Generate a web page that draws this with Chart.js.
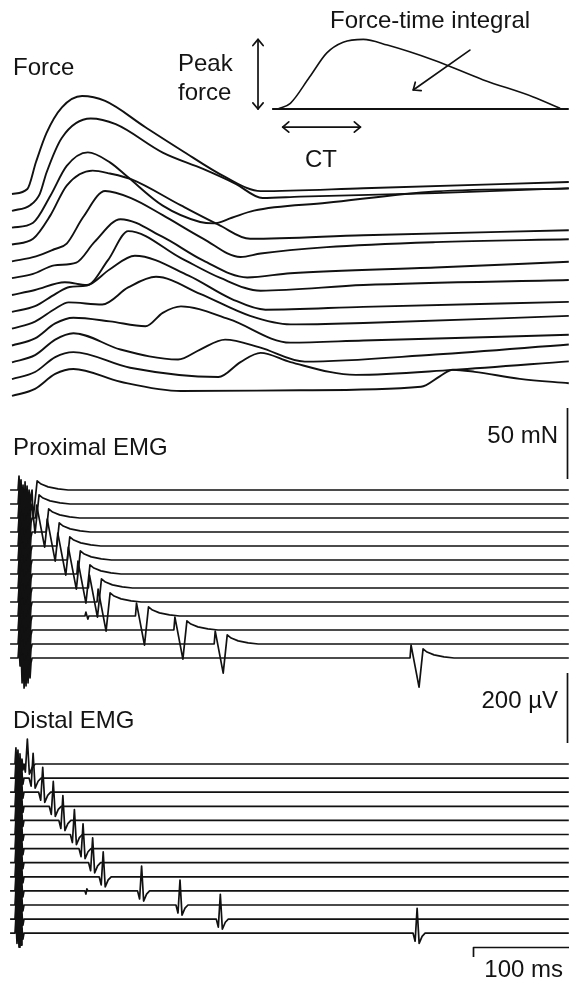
<!DOCTYPE html>
<html>
<head>
<meta charset="utf-8">
<script src="https://cdn.jsdelivr.net/npm/chart.js@4.4.1/dist/chart.umd.min.js"></script>
<style>
  html, body { margin: 0; padding: 0; background: #fff; }
  #wrap { position: relative; width: 569px; height: 982px; overflow: hidden; }
  #chart { position: absolute; left: 0; top: 0; }
  .lbl { position: absolute; font-family: "Liberation Sans", Arial, Helvetica, sans-serif;
         font-size: 24px; line-height: 24px; color: #141414; white-space: nowrap; }
</style>
</head>
<body>
<div id="wrap">
  <canvas id="chart" width="569" height="982"></canvas>
  <div class="lbl" style="left:13px;top:55px">Force</div>
  <div class="lbl" style="left:178px;top:51px">Peak</div>
  <div class="lbl" style="left:178px;top:80px">force</div>
  <div class="lbl" style="left:330px;top:8px">Force-time integral</div>
  <div class="lbl" style="left:305px;top:147px">CT</div>
  <div class="lbl" style="right:11px;top:423px">50 mN</div>
  <div class="lbl" style="left:13px;top:435px">Proximal EMG</div>
  <div class="lbl" style="right:11px;top:688px">200 µV</div>
  <div class="lbl" style="left:13px;top:708px">Distal EMG</div>
  <div class="lbl" style="right:6px;top:957px">100 ms</div>
</div>
<script>
// time in ms after the first stimulus, force in mN above each trace's baseline
const force01 = [[0,0],[16,3.5],[25,22.5],[36,43],[52,61],[73,69],[97,65.5],[139,47],[176,31],[222,12],[259,2],[366,4],[580,8.5]];
const force02 = [[0,0],[19,4],[29,12],[36,27],[52,51.5],[82,65],[108,61],[157,41],[199,29.5],[233,19],[261,9],[300,10],[441,12.5],[580,16]];
const force03 = [[0,0],[22,3.5],[40,22.5],[57,43.5],[79,53],[102,46],[120,36],[157,15.5],[196,4],[210,3],[229,7],[252,12],[328,17.5],[441,25.5],[580,27.5]];
const force04 = [[0,0],[22,4],[40,20.5],[57,41.5],[84,52],[102,50],[124,46],[176,27.5],[215,14],[248,4],[366,6.5],[580,10]];
const force05 = [[0,0],[25,3.5],[44,8.5],[57,12.5],[74,31],[97,49.5],[124,44.5],[157,32.5],[199,16],[238,3],[259,5.5],[328,10],[441,13.5],[580,15.5]];
const force06 = [[0,0],[22,3],[44,9],[67,11],[86,25.5],[113,41.5],[157,29],[199,12.5],[245,0.5],[290,3.5],[441,7.5],[580,11.5]];
const force07 = [[0,0],[24,3.5],[55,9],[78,7],[100,24.5],[121,45],[176,26],[217,12],[259,3],[366,7],[580,10.5]];
const force08 = [[0,0],[24,4],[45,12.5],[60,17.5],[78,18.5],[102,30],[128,39.5],[184,25.5],[229,9],[264,1.5],[366,3.5],[580,7]];
const force09 = [[0,0],[24,5],[45,14],[59,18.5],[94,17],[121,29],[150,36.5],[196,24.5],[248,9],[290,3],[366,4],[580,9]];
const force10 = [[0,0],[24,5],[45,15.5],[64,19.5],[102,17],[139,13.5],[157,23],[176,27.5],[226,18.5],[290,2],[366,3.5],[580,7.5]];
const force11 = [[0,0],[24,5],[45,16],[64,20.5],[113,9],[173,2],[196,9],[222,16],[258,10.5],[305,0.5],[441,5.5],[580,12.5]];
const force12 = [[0,0],[24,5],[45,15.5],[64,19],[123,8],[215,1.5],[238,12],[259,18.5],[290,12],[358,3],[459,6.5],[580,12.5]];
const force13 = [[0,0],[24,5],[45,15.5],[64,19],[113,10],[176,3.5],[300,4],[426,6.5],[446,14],[459,18.5],[482,17],[529,12],[580,9]];
const forceTraces = [force01, force02, force03, force04, force05, force06, force07, force08, force09, force10, force11, force12, force13];

// EMG: response latency per trace (ms) and waveform shapes (ms offset, µV)
const proximalLatency = [22, 24, 34, 45, 56, 67, 77, 89, 98, 138, 178, 220, 424];
const distalLatency = [16, 22, 32, 43, 53, 65, 74, 84, 95, 135, 175, 217, 422];
const proximalShape = [[-9.4,0],[-8.3,37],[0,-83],[4.2,26],[8.3,17],[15.6,9],[26,3],[36.5,0]];
const distalShape = [[-4.2,0],[-2.1,-23],[0,71],[2.1,-29],[5.2,-9],[8.3,0]];
const proximalStim = 6.3;
const proximalArtifact = [[0,0],[1,40],[2.1,-23],[3.1,29],[4.2,-71],[5.2,14],[6.3,-86],[7.3,23],[8.3,-80],[9.4,11],[10.4,-71],[11.5,0],[12.5,-57],[13.5,-14],[14.6,0]];
const distalStim = 3.1;
const distalArtifact = [[0,0],[1,46],[2.1,-29],[3.1,40],[4.2,-40],[5.2,29],[6.3,-34],[7.3,14],[8.3,-17],[9.4,0]];
const proximalBlip = [[76,0],[77,11],[79,-9],[80,0]];
const distalBlip = [[76,0],[77,-9],[78,6],[79,0]];
const blipTrace = 9;

// inset: schematic twitch (ms from onset, mN)
const insetTimes = [3, 16, 36, 54, 71, 92, 117, 165, 217, 269, 297];
const insetForce = [0, 4, 22.5, 39.5, 47, 49, 45, 34.5, 20.5, 8.5, 0.5];
const insetBaseline = [-3, 306];
const integralArrow = [[203, 41.5], [144, 13.4]];

// scale bars
const forceBar = 50, emgBar = 200, timeBar = 100;

// ---- layout ----
const W = 569, H = 982, INK = '#111';
const PX_PER_MS = 0.96, PX_PER_MN = 1.42, PX_PER_UV = 0.35;
const FORCE_GAP = 16.83 / PX_PER_MN, PROX_GAP = 14 / PX_PER_UV, DIST_GAP = 14.1 / PX_PER_UV;

function xRange(originPx) { const min = -originPx / PX_PER_MS; return { min, max: min + W / PX_PER_MS }; }
function yRange(basePx, k) { const max = basePx / k; return { min: max - H / k, max }; }

function emgTrace(stim, artifact, lat, shape, extra) {
  const pts = [[-2, 0]];
  artifact.forEach(([dt, v]) => pts.push([stim + dt, v]));
  const artEnd = stim + artifact[artifact.length - 1][0];
  shape.forEach(([dt, v]) => { if (lat + dt > artEnd + 0.5) pts.push([lat + dt, v]); });
  extra.forEach(p => pts.push(p));
  pts.push([580, 0]);
  return pts.sort((a, b) => a[0] - b[0]);
}

const line = { showLine: true, borderColor: INK, pointRadius: 0, fill: false };
const datasets = [];
forceTraces.forEach((tr, i) => datasets.push({
  ...line, xAxisID: 'x', yAxisID: 'yF', borderWidth: 1.9, cubicInterpolationMode: 'monotone',
  data: tr.map(([t, f]) => ({ x: t, y: f - i * FORCE_GAP })),
}));
proximalLatency.forEach((lat, i) => datasets.push({
  ...line, xAxisID: 'x', yAxisID: 'yP', borderWidth: 1.7, borderJoinStyle: 'round',
  data: emgTrace(proximalStim, proximalArtifact, lat, proximalShape, i === blipTrace ? proximalBlip : [])
    .map(([t, v]) => ({ x: t, y: v - i * PROX_GAP })),
}));
distalLatency.forEach((lat, i) => datasets.push({
  ...line, xAxisID: 'x', yAxisID: 'yD', borderWidth: 1.7, borderJoinStyle: 'round',
  data: emgTrace(distalStim, distalArtifact, lat, distalShape, i === blipTrace ? distalBlip : [])
    .map(([t, v]) => ({ x: t, y: v - i * DIST_GAP })),
}));
datasets.push({
  ...line, xAxisID: 'xI', yAxisID: 'yI', borderWidth: 1.6, cubicInterpolationMode: 'monotone',
  data: insetTimes.map((t, i) => ({ x: t, y: insetForce[i] })),
});
datasets.push({
  ...line, xAxisID: 'xI', yAxisID: 'yI', borderWidth: 2,
  data: insetBaseline.map(t => ({ x: t, y: 0 })),
});

function arrowHead(ctx, x1, y1, x2, y2, len) {
  const a = Math.atan2(y2 - y1, x2 - x1);
  ctx.beginPath();
  ctx.moveTo(x2 - len * Math.cos(a - 0.7), y2 - len * Math.sin(a - 0.7));
  ctx.lineTo(x2, y2);
  ctx.lineTo(x2 - len * Math.cos(a + 0.7), y2 - len * Math.sin(a + 0.7));
  ctx.stroke();
}
function arrow(ctx, x1, y1, x2, y2, both) {
  ctx.beginPath(); ctx.moveTo(x1, y1); ctx.lineTo(x2, y2); ctx.stroke();
  arrowHead(ctx, x1, y1, x2, y2, 8);
  if (both) arrowHead(ctx, x2, y2, x1, y1, 8);
}

const annotations = {
  id: 'annotations',
  afterDatasetsDraw(chart) {
    const { ctx } = chart;
    const { x, xI, yI, yF, yP } = chart.scales;
    ctx.save();
    ctx.strokeStyle = INK; ctx.lineWidth = 1.7; ctx.lineCap = 'round'; ctx.lineJoin = 'round';
    // peak force
    const peak = Math.max(...insetForce);
    const tPeak = insetTimes[insetForce.indexOf(peak)];
    const ax = xI.getPixelForValue(-17.7);
    arrow(ctx, ax, yI.getPixelForValue(0), ax, yI.getPixelForValue(peak), true);
    // contraction time
    const cy = yI.getPixelForValue(-12.7);
    arrow(ctx, xI.getPixelForValue(insetTimes[0] + 5), cy, xI.getPixelForValue(tPeak - 3), cy, true);
    // force-time integral pointer
    arrow(ctx, xI.getPixelForValue(integralArrow[0][0]), yI.getPixelForValue(integralArrow[0][1]),
      xI.getPixelForValue(integralArrow[1][0]), yI.getPixelForValue(integralArrow[1][1]), false);
    // scale bars
    ctx.lineCap = 'butt';
    const bx = 567.5;
    const fb = yF.getValueForPixel(479);
    ctx.beginPath(); ctx.moveTo(bx, yF.getPixelForValue(fb)); ctx.lineTo(bx, yF.getPixelForValue(fb + forceBar)); ctx.stroke();
    const eb = yP.getValueForPixel(673);
    ctx.beginPath(); ctx.moveTo(bx, yP.getPixelForValue(eb)); ctx.lineTo(bx, yP.getPixelForValue(eb - emgBar)); ctx.stroke();
    const t0 = x.getValueForPixel(473.5);
    ctx.beginPath();
    ctx.moveTo(x.getPixelForValue(t0), 957); ctx.lineTo(x.getPixelForValue(t0), 947.5);
    ctx.lineTo(x.getPixelForValue(t0 + timeBar), 947.5); ctx.stroke();
    ctx.restore();
  }
};

const hidden = (r) => ({ type: 'linear', display: false, min: r.min, max: r.max });
new Chart(document.getElementById('chart'), {
  type: 'scatter',
  data: { datasets },
  options: {
    responsive: false, animation: false, devicePixelRatio: 1,
    layout: { padding: 0 },
    plugins: { legend: { display: false }, tooltip: { enabled: false } },
    scales: {
      x: { ...hidden(xRange(12)), position: 'bottom' },
      xI: { ...hidden(xRange(275)), position: 'bottom' },
      yF: { ...hidden(yRange(194, PX_PER_MN)), position: 'left' },
      yP: { ...hidden(yRange(490, PX_PER_UV)), position: 'left' },
      yD: { ...hidden(yRange(764, PX_PER_UV)), position: 'left' },
      yI: { ...hidden(yRange(109, PX_PER_MN)), position: 'left' },
    },
  },
  plugins: [annotations],
});
</script>
</body>
</html>
